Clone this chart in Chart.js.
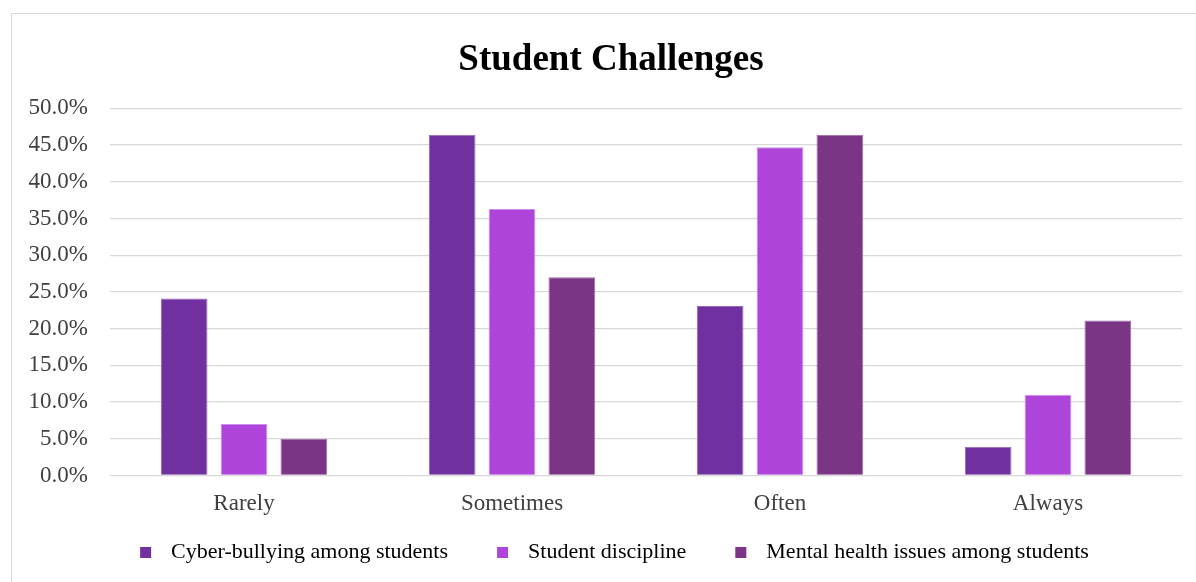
<!DOCTYPE html>
<html>
<head>
<meta charset="utf-8">
<script src="https://cdn.jsdelivr.net/npm/chart.js@4"></script>
<style>
  html, body { margin: 0; padding: 0; background: #fff; overflow: hidden; }
  #frame { position: absolute; left: 11px; top: 13px; width: 1220px; height: 620px; border: 1px solid #d9d9d9; box-sizing: border-box; }
  #wrap { position: absolute; left: 0; top: 0; width: 1196px; height: 582px; }
</style>
</head>
<body>
<div id="frame"></div>
<div id="wrap"><canvas id="chart" width="1196" height="582"></canvas></div>
<script>
// Survey responses (% of respondents) per frequency category
const categories = ['Rarely', 'Sometimes', 'Often', 'Always'];
const seriesNames = ['Cyber-bullying among students', 'Student discipline', 'Mental health issues among students'];
const cyberBullying = [24.1, 46.4, 23.1, 3.9];
const studentDiscipline = [7.0, 36.3, 44.7, 11.0];
const mentalHealth = [5.0, 27.0, 46.4, 21.1];
const seriesColors = ['#7030A0', '#AE44D9', '#7A3585'];
const seriesEdges = ['#9566BC', '#CE8DEA', '#9C6BA7'];

const serif = '"Liberation Serif", "Times New Roman", serif';

// Legend marker: small square with a transparent lead-in and gap before the text
const markerLead = 47, markerBox = 11, markerTail = 9;
const markerWidth = markerLead + markerBox + markerTail;
function legendMarker(color) {
  const c = document.createElement('canvas');
  c.width = markerWidth;
  c.height = markerBox;
  const g = c.getContext('2d');
  g.fillStyle = color;
  g.fillRect(markerLead, 0, markerBox, markerBox);
  return c;
}
const markers = seriesColors.map(legendMarker);

const seriesValues = [cyberBullying, studentDiscipline, mentalHealth];

// Nudge the title block to the right after layout
const titleShift = {
  id: 'titleShift',
  afterLayout(chart) {
    const t = chart.titleBlock;
    if (t) { t.left += 20; t.right += 20; }
  }
};

new Chart(document.getElementById('chart'), {
  type: 'bar',
  data: {
    labels: categories,
    datasets: seriesNames.map((name, i) => ({
      label: name,
      data: seriesValues[i],
      backgroundColor: seriesColors[i],
      borderColor: seriesEdges[i],
      borderWidth: 1,
      categoryPercentage: 0.67,
      barPercentage: 0.78
    }))
  },
  plugins: [titleShift],
  options: {
    responsive: false,
    animation: false,
    layout: { padding: { left: 0, right: 14, top: 0, bottom: 9 } },
    plugins: {
      tooltip: { enabled: false },
      title: {
        display: true,
        text: 'Student Challenges',
        color: '#000',
        font: { family: serif, size: 37, weight: 'bold' },
        padding: { top: 38, bottom: 26 }
      },
      legend: {
        position: 'bottom',
        labels: {
          usePointStyle: true,
          pointStyleWidth: markerWidth,
          padding: 2,
          color: '#404040',
          font: { family: serif, size: 22 },
          generateLabels: (chart) => chart.data.datasets.map((ds, i) => ({
            text: ds.label,
            fillStyle: ds.backgroundColor,
            strokeStyle: ds.backgroundColor,
            lineWidth: 0,
            pointStyle: markers[i],
            hidden: false,
            datasetIndex: i
          }))
        }
      }
    },
    scales: {
      x: {
        grid: { display: false, drawTicks: false },
        border: { display: false },
        ticks: { color: '#404040', font: { family: serif, size: 23 }, padding: 15 },
        afterFit: (s) => { s.height = 63.5; }
      },
      y: {
        min: 0,
        max: 50,
        grid: { color: '#d9d9d9', lineWidth: 1.3, drawTicks: false },
        border: { display: false },
        ticks: {
          stepSize: 5,
          color: '#404040',
          font: { family: serif, size: 23 },
          padding: 22,
          callback: (v) => v.toFixed(1) + '%'
        },
        afterFit: (s) => { s.width = 110; }
      }
    }
  }
});
</script>
</body>
</html>
